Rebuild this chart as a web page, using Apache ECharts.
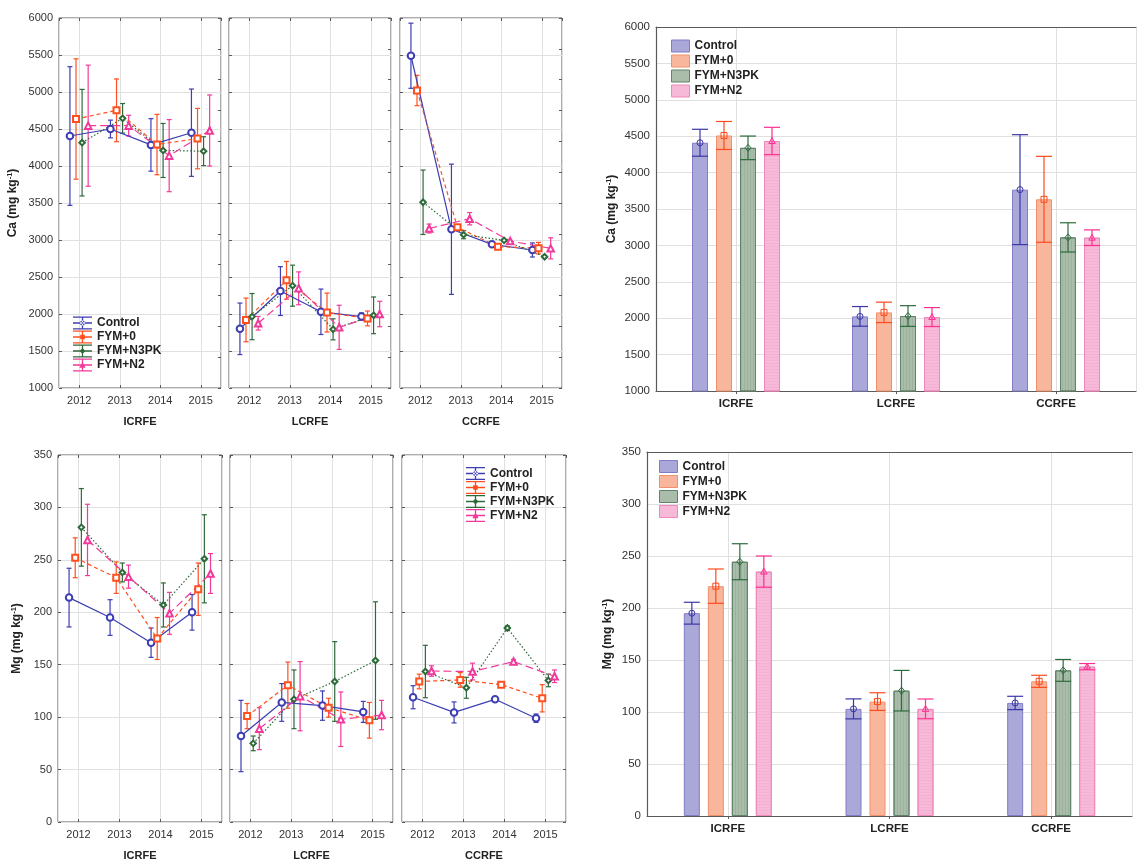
<!DOCTYPE html>
<html><head><meta charset="utf-8">
<script src="https://cdn.jsdelivr.net/npm/echarts@6/dist/echarts.min.js"></script>
<style>html,body{margin:0;padding:0;background:#fff}#c{width:1143px;height:862px}</style>
</head><body><div id="c"></div>
<script>
// ---------------- DATA ----------------
const years = [2012, 2013, 2014, 2015];
const sites = ['ICRFE', 'LCRFE', 'CCRFE'];
const treatments = ['Control', 'FYM+0', 'FYM+N3PK', 'FYM+N2'];

// Ca (mg/kg) by year, rows = treatments, cols = years
const caMeanICRFE = [[4405, 4500, 4285, 4450], [4635, 4752, 4290, 4370], [4315, 4644, 4210, 4200], [4545, 4545, 4140, 4480]];
const caErrICRFE  = [[937, 120, 355, 590], [813, 424, 408, 408], [720, 200, 365, 195], [818, 140, 487, 480]];
const caMeanLCRFE = [[1800, 2310, 2030, 1965], [1920, 2455, 2020, 1940], [1965, 2383, 1793, 1982], [1875, 2347, 1820, 2000]];
const caErrLCRFE  = [[348, 330, 307, 50], [295, 255, 263, 100], [312, 277, 142, 248], [92, 222, 298, 172]];
const caMeanCCRFE = [[5490, 3145, 2941, 2865], [5020, 3171, 2910, 2890], [3510, 3072, 2995, 2774], [3155, 3288, 2986, 2887]];
const caErrCCRFE  = [[440, 880, 20, 95], [205, 20, 15, 78], [435, 55, 10, 12], [60, 83, 10, 142]];

// Mg (mg/kg) by year
const mgMeanICRFE = [[214, 195, 171, 200], [252, 233, 175, 222], [281, 238, 207, 251], [269, 234, 199, 237]];
const mgErrICRFE  = [[28, 17, 14, 17], [19, 15, 20, 25], [37, 9, 21, 42], [34, 11, 20, 19]];
const mgMeanLCRFE = [[82, 114, 111, 105], [101, 130.5, 109, 97], [75, 117, 134, 154], [89, 120, 98, 102]];
const mgErrLCRFE  = [[34, 18, 14, 10], [12, 22, 9, 17], [7, 28, 38, 56], [20, 33, 26, 14]];
const mgMeanCCRFE = [[119, 104.5, 117, 99], [134, 135.5, 131, 118], [143.5, 128, 185, 135], [144, 143.5, 153, 139]];
const mgErrCCRFE  = [[11, 10, 2, 4], [7, 7, 2, 13], [25, 10, 2, 6], [5, 8, 2, 6]];

// Site means (bars), rows = treatments, cols = sites
const caBarMean = [[4410, 2025, 3766], [4510, 2080, 3633], [4340, 2030, 3110], [4434, 2016, 3106]];
const caBarErr  = [[185, 135, 755], [192, 140, 590], [162, 142, 201], [188, 130, 107]];
const mgBarMean = [[195, 103, 108.7], [221, 110, 129.5], [244.5, 120.5, 140], [235, 103, 143.6]];
const mgBarErr  = [[10.5, 9.6, 6.4], [16.5, 8.5, 5.8], [17.3, 19.5, 10.5], [15, 9.5, 3]];

// axis ranges
const caAxis = [1000, 6000, 500];
const mgAxis = [0, 350, 50];

// ---------------- STYLE ----------------
const FONT = 'Arial, "Liberation Sans", Helvetica, sans-serif';
const lineColors = ['#3d3db4', '#ff4f1f', '#2c6a3a', '#f2399b'];
const lineTypes = ['solid', [4, 3], [1.5, 2], [8, 4]];
const lineSymbols = ['emptyCircle', 'emptyRect', 'emptyDiamond', 'emptyTriangle'];
const lineSymbolSizes = [6.5, 6, 5.5, 6.5];
const xOffsets = [-0.23, -0.08, 0.07, 0.22];
const barFill = ['#aaa7d9', '#f8b69c', '#a9bdaa', '#f6b9d7'];
const barBorder = ['#807dc6', '#f0916d', '#62836a', '#ee89bb'];
const errColor = ['#3a37a6', '#ff4a1c', '#2e6b3c', '#ff2e90'];
const barDecals = [
  null, null,
  {symbol: 'rect', symbolSize: 1, color: 'rgba(70,100,75,0.13)', dashArrayX: [1, 2], dashArrayY: [20, 0]},
  {symbol: 'rect', symbolSize: 1, color: 'rgba(240,120,180,0.13)', dashArrayX: [20, 0], dashArrayY: [1, 2]}
];
const markerPaths = [
  'M7,6.5A2.5,2.5,0,1,0,12,6.5A2.5,2.5,0,1,0,7,6.5Z',
  'M7.2,4.2H11.8V8.8H7.2Z',
  'M9.5,3.5L12.5,6.5L9.5,9.5L6.5,6.5Z',
  'M9.5,3.3L12.6,9.2L6.4,9.2Z'
];
const errIconBase = 'M0,0H19V1.3H0ZM0,11.7H19V13H0ZM8.85,0H10.15V13H8.85ZM0,5.85H19V7.15H0Z';

const grids = [], xAxes = [], yAxes = [], series = [], legends = [];
const gridLineColor = '#e0e0e0';
const frameColor = '#5a5a5a';
const plainNum = v => String(v);

function yName(el, fs) {
  return {
    name: '{b|' + el + ' (mg kg}{s|-1}{b|)}',
    nameTextStyle: {rich: {
      b: {fontSize: fs, fontWeight: 'bold', color: '#222', fontFamily: FONT, lineHeight: 14},
      s: {fontSize: 7.5, fontWeight: 'bold', color: '#222', fontFamily: FONT, verticalAlign: 'top', lineHeight: 14}
    }}
  };
}

function markerShape(i, x, y, color) {
  const st = {fill: 'none', stroke: color, lineWidth: 1};
  if (i === 0) return {type: 'circle', shape: {cx: x, cy: y, r: 3}, style: st};
  if (i === 1) return {type: 'rect', shape: {x: x - 3, y: y - 3, width: 6, height: 6}, style: st};
  if (i === 2) return {type: 'polygon', shape: {points: [[x, y - 3.5], [x + 3, y], [x, y + 3.5], [x - 3, y]]}, style: st};
  return {type: 'polygon', shape: {points: [[x, y - 3.5], [x + 3.2, y + 2.5], [x - 3.2, y + 2.5]]}, style: st};
}

function addLinePanel(box, el, siteIdx, means, errs, axisRange, rightMax, nameGapY) {
  const gi = grids.length;
  grids.push({left: box[0], top: box[1], width: box[2], height: box[3], show: true,
    borderColor: frameColor, borderWidth: 1, backgroundColor: 'transparent'});
  const xi = xAxes.length;
  xAxes.push({type: 'value', gridIndex: gi, position: 'bottom', min: 2011.5, max: 2015.5, splitNumber: 4,
    axisLine: {show: false, onZero: false}, axisTick: {show: true, inside: true, length: 3, lineStyle: {color: frameColor}},
    axisLabel: {formatter: v => Number.isInteger(v) ? String(v) : '', fontSize: 11, color: '#333',
      margin: 7, fontFamily: FONT, showMinLabel: false, showMaxLabel: false},
    splitLine: {show: true, lineStyle: {color: gridLineColor, width: 1}},
    name: sites[siteIdx], nameLocation: 'middle', nameGap: 28,
    nameTextStyle: {fontWeight: 'bold', fontSize: 11, color: '#222', fontFamily: FONT}});
  xAxes.push({type: 'value', gridIndex: gi, position: 'top', min: 2011.5, max: 2015.5, splitNumber: 4,
    axisLine: {show: false, onZero: false}, axisLabel: {show: false}, splitLine: {show: false},
    axisTick: {show: true, inside: true, length: 3, lineStyle: {color: frameColor}}});
  const yi = yAxes.length;
  const yn = siteIdx === 0 ? yName(el, 12) : {name: ''};
  yAxes.push(Object.assign({type: 'value', gridIndex: gi, position: 'left',
    min: axisRange[0], max: axisRange[1], interval: axisRange[2],
    axisLine: {show: false, onZero: false}, axisTick: {show: true, inside: true, length: 3, lineStyle: {color: frameColor}},
    axisLabel: {show: siteIdx === 0, fontSize: 11, color: '#333', margin: 6, fontFamily: FONT, formatter: plainNum},
    splitLine: {show: true, lineStyle: {color: gridLineColor, width: 1}},
    nameLocation: 'middle', nameGap: nameGapY}, yn));
  yAxes.push({type: 'value', gridIndex: gi, position: 'right', min: 0, max: rightMax, interval: 1,
    axisLine: {show: false, onZero: false}, axisLabel: {show: false}, splitLine: {show: false},
    axisTick: {show: true, inside: true, length: 3, lineStyle: {color: frameColor}}});

  treatments.forEach((t, i) => {
    const col = lineColors[i];
    series.push({type: 'custom', name: t, xAxisIndex: xi, yAxisIndex: yi, z: 2, silent: true,
      data: years.map((y, j) => [y + xOffsets[i], means[i][j], errs[i][j]]),
      renderItem: (params, api) => {
        const x = api.coord([api.value(0), api.value(1)])[0];
        const yt = api.coord([api.value(0), api.value(1) + api.value(2)])[1];
        const yb = api.coord([api.value(0), api.value(1) - api.value(2)])[1];
        const st = {stroke: col, lineWidth: 1.2};
        return {type: 'group', children: [
          {type: 'line', shape: {x1: x, y1: yt, x2: x, y2: yb}, style: st},
          {type: 'line', shape: {x1: x - 2.5, y1: yt, x2: x + 2.5, y2: yt}, style: st},
          {type: 'line', shape: {x1: x - 2.5, y1: yb, x2: x + 2.5, y2: yb}, style: st}
        ]};
      }});
    series.push({type: 'line', name: t, xAxisIndex: xi, yAxisIndex: yi, z: 3,
      data: years.map((y, j) => [y + xOffsets[i], means[i][j]]),
      symbol: lineSymbols[i], symbolSize: lineSymbolSizes[i], showAllSymbol: true,
      lineStyle: {color: col, width: 1.2, type: lineTypes[i]},
      itemStyle: {color: col, borderWidth: 1.2}});
  });
}

function addLineLegend(left, top) {
  legends.push({orient: 'vertical', left: left, top: top, itemWidth: 19, itemHeight: 13, itemGap: 1,
    padding: 0, selectedMode: false,
    textStyle: {fontWeight: 'bold', fontSize: 12, color: '#222', fontFamily: FONT, padding: [0, 0, 0, 0]},
    data: treatments.map((t, i) => ({name: t, icon: 'path://' + errIconBase + markerPaths[i],
      itemStyle: {color: lineColors[i], borderWidth: 0}}))});
}

function addBarPanel(box, el, means, errs, axisRange, nameGapY) {
  const gi = grids.length;
  grids.push({left: box[0], top: box[1], width: box[2], height: box[3], show: false});
  const xi = xAxes.length;
  xAxes.push({type: 'category', gridIndex: gi, data: sites, position: 'bottom',
    axisLine: {show: true, onZero: false, lineStyle: {color: frameColor, width: 1.2}},
    axisTick: {show: true, alignWithLabel: true, length: 3, lineStyle: {color: frameColor}},
    axisLabel: {fontWeight: 'bold', fontSize: 11.5, color: '#222', margin: 7, fontFamily: FONT},
    splitLine: {show: false}});
  xAxes.push({type: 'value', gridIndex: gi, position: 'top', min: -0.5, max: 2.5, splitNumber: 3,
    axisLine: {show: true, onZero: false, lineStyle: {color: frameColor, width: 1.2}}, axisLabel: {show: false}, axisTick: {show: false},
    splitLine: {show: true, lineStyle: {color: gridLineColor, width: 1}}});
  const yi = yAxes.length;
  yAxes.push(Object.assign({type: 'value', gridIndex: gi, position: 'left',
    min: axisRange[0], max: axisRange[1], interval: axisRange[2],
    axisLine: {show: true, onZero: false, lineStyle: {color: frameColor, width: 1.2}}, axisTick: {show: false},
    axisLabel: {fontSize: 11.5, color: '#333', margin: 6, fontFamily: FONT, formatter: plainNum},
    splitLine: {show: true, lineStyle: {color: gridLineColor, width: 1}},
    nameLocation: 'middle', nameGap: nameGapY}, yName(el, 12)));

  treatments.forEach((t, i) => {
    const st = {color: barFill[i], borderColor: barBorder[i], borderWidth: 1};
    if (barDecals[i]) st.decal = barDecals[i];
    series.push({type: 'bar', name: t, xAxisIndex: xi, yAxisIndex: yi, z: 2,
      data: means[i], barWidth: 16, barGap: '50%', itemStyle: st});
  });
  treatments.forEach((t, i) => {
    const col = errColor[i];
    series.push({type: 'custom', name: t, xAxisIndex: xi, yAxisIndex: yi, z: 4, silent: true,
      data: sites.map((s, k) => [k, means[i][k], errs[i][k]]),
      renderItem: (params, api) => {
        const k = api.value(0), m = api.value(1), e = api.value(2);
        const c = api.coord([k, m]);
        const x = c[0] + (i - 1.5) * 24;
        const yt = api.coord([k, m + e])[1];
        const yb = api.coord([k, m - e])[1];
        const st = {stroke: col, lineWidth: 1.2};
        return {type: 'group', children: [
          {type: 'line', shape: {x1: x, y1: yt, x2: x, y2: yb}, style: st},
          {type: 'line', shape: {x1: x - 8, y1: yt, x2: x + 8, y2: yt}, style: st},
          {type: 'line', shape: {x1: x - 8, y1: yb, x2: x + 8, y2: yb}, style: st},
          markerShape(i, x, c[1], col)
        ]};
      }});
  });
}

function addBarLegend(left, top) {
  legends.push({orient: 'vertical', left: left, top: top, itemWidth: 18, itemHeight: 12, itemGap: 2,
    padding: 0, selectedMode: false,
    textStyle: {fontWeight: 'bold', fontSize: 12, color: '#222', fontFamily: FONT},
    data: treatments.map((t, i) => ({name: t, icon: 'rect',
      itemStyle: {color: barFill[i], borderColor: barBorder[i], borderWidth: 1}}))});
}

// ---------------- PANELS ----------------
addLinePanel([59, 18, 162, 370], 'Ca', 0, caMeanICRFE, caErrICRFE, caAxis, 12, 39);
addLinePanel([229, 18, 162, 370], 'Ca', 1, caMeanLCRFE, caErrLCRFE, caAxis, 12, 39);
addLinePanel([400, 18, 162, 370], 'Ca', 2, caMeanCCRFE, caErrCCRFE, caAxis, 12, 39);
addLinePanel([58, 455, 164, 368], 'Mg', 0, mgMeanICRFE, mgErrICRFE, mgAxis, 7, 34);
addLinePanel([230, 455, 163, 368], 'Mg', 1, mgMeanLCRFE, mgErrLCRFE, mgAxis, 7, 34);
addLinePanel([402, 455, 164, 368], 'Mg', 2, mgMeanCCRFE, mgErrCCRFE, mgAxis, 7, 34);
addBarPanel([656, 27, 480, 364], 'Ca', caBarMean, caBarErr, caAxis, 37);
addBarPanel([647, 452, 485, 364], 'Mg', mgBarMean, mgBarErr, mgAxis, 32);

addLineLegend(73, 316.5);
addLineLegend(466, 467);
addBarLegend(671, 39.5);
addBarLegend(659, 460);

const chart = echarts.init(document.getElementById('c'), null, {renderer: 'canvas', width: 1143, height: 862});
chart.setOption({
  animation: false,
  backgroundColor: '#ffffff',
  grid: grids, xAxis: xAxes, yAxis: yAxes, legend: legends, series: series
});
</script>
</body></html>
